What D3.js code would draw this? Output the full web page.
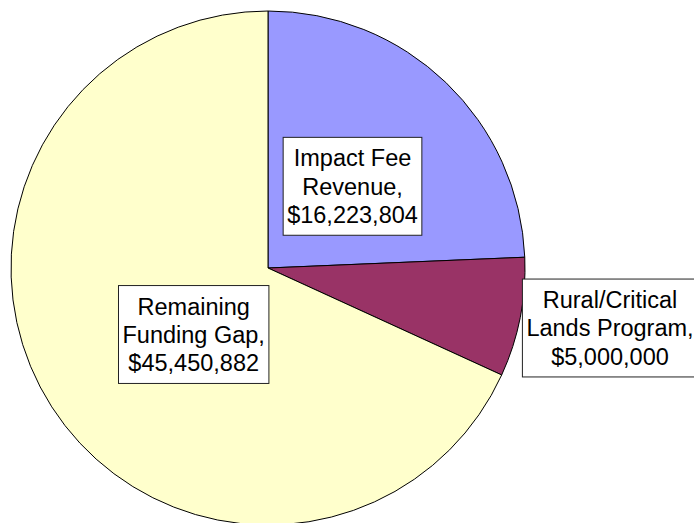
<!DOCTYPE html>
<html>
<head>
<meta charset="utf-8">
<script src="https://cdn.jsdelivr.net/npm/d3@7/dist/d3.min.js"></script>
<style>
  html, body { margin: 0; padding: 0; background: #fff; }
  svg { display: block; }
  text { font-family: "Liberation Sans", Arial, sans-serif; }
</style>
</head>
<body>
<svg id="chart" width="694" height="523"></svg>
<script>
// Funding sources
const categories = ["Impact Fee Revenue", "Rural/Critical Lands Program", "Remaining Funding Gap"];
const values = [16223804, 5000000, 45450882];
const labelLines = [
  ["Impact Fee", "Revenue,"],
  ["Rural/Critical", "Lands Program,"],
  ["Remaining", "Funding Gap,"]
];
const colors = ["#9999FF", "#993366", "#FFFFCC"];

// Layout
const W = 694, H = 523;
const cx = 268, cy = 268, radius = 257;
const fontSize = 23.5, lineHeight = 28.3;
// label box centres, relative to the pie centre
const labelOffsets = [[84.5, -81.7], [342, 60], [-74.3, 66.5]];

const fmt = d3.format("$,");
const svg = d3.select("#chart");
const g = svg.append("g").attr("transform", `translate(${cx},${cy})`);

const data = categories.map((c, i) => ({ name: c, value: values[i], lines: labelLines[i].concat(fmt(values[i])), color: colors[i] }));

const pie = d3.pie().value(d => d.value).sort(null);
const arc = d3.arc().innerRadius(0).outerRadius(radius);
const arcs = pie(data);

g.selectAll("path.slice")
  .data(arcs)
  .join("path")
  .attr("class", "slice")
  .attr("d", arc)
  .attr("fill", d => d.data.color)
  .attr("stroke", "#000")
  .attr("stroke-width", 1)
  .attr("stroke-linejoin", "round");

// data labels in white boxes
const labels = g.selectAll("g.label")
  .data(arcs)
  .join("g")
  .attr("class", "label")
  .attr("transform", (d, i) => `translate(${labelOffsets[i][0]},${labelOffsets[i][1]})`);

labels.each(function(d) {
  const lg = d3.select(this);
  const n = d.data.lines.length;
  const rect = lg.append("rect");
  const t = lg.append("text")
    .attr("text-anchor", "middle")
    .attr("font-size", fontSize)
    .attr("fill", "#000");
  d.data.lines.forEach((line, k) => {
    t.append("tspan")
      .attr("x", 0)
      .attr("y", (k - (n - 1) / 2) * lineHeight + fontSize * 0.36)
      .text(line);
  });
  const widest = d3.max(t.selectAll("tspan").nodes(), s => s.getComputedTextLength());
  const bw = widest + 8, bh = n * lineHeight + 13;
  rect.attr("x", -bw / 2).attr("y", -bh / 2)
    .attr("width", bw).attr("height", bh)
    .attr("fill", "#fff")
    .attr("stroke", "#222")
    .attr("stroke-width", 1);
});
</script>
</body>
</html>
